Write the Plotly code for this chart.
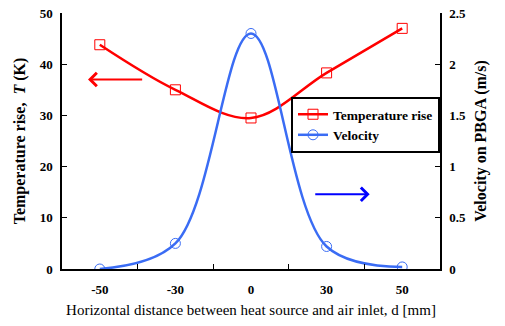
import plotly.graph_objects as go

categories = ["-50", "-30", "0", "30", "50"]
temperature_rise = [43.8, 35.0, 29.5, 38.3, 47.0]
velocity = [0.0, 0.25, 2.30, 0.22, 0.02]

xpos = list(range(len(categories)))
FONT = "Liberation Serif"

fig = go.Figure()
fig.add_trace(go.Scatter(
    x=xpos, y=temperature_rise, name="<b>Temperature rise</b>",
    mode="lines+markers", line=dict(color="#ff0000", width=2.5, shape="spline", smoothing=1),
    marker=dict(symbol="square-open", size=10, color="#ff0000", line=dict(width=1)),
))
fig.add_trace(go.Scatter(
    x=xpos, y=velocity, name="<b>Velocity</b>", yaxis="y2",
    mode="lines+markers", line=dict(color="#3a6cf4", width=2.5, shape="spline", smoothing=1),
    marker=dict(symbol="circle-open", size=10, color="#3a6cf4", line=dict(width=1)),
))

fig.add_annotation(x=-0.156, y=37.0, ax=0.58, ay=37.0, xref="x", yref="y", axref="x", ayref="y",
                   text="", showarrow=True, arrowhead=4, arrowsize=1.3, arrowwidth=2, arrowcolor="#ff0000")
fig.add_annotation(x=3.57, y=14.6, ax=2.83, ay=14.6, xref="x", yref="y", axref="x", ayref="y",
                   text="", showarrow=True, arrowhead=4, arrowsize=1.3, arrowwidth=2, arrowcolor="#0000ff")

fig.update_layout(
    width=505, height=326,
    margin=dict(l=62, r=65, t=13, b=57),
    paper_bgcolor="white", plot_bgcolor="white",
    font=dict(family=FONT, size=13, color="black"),
    showlegend=True,
    legend=dict(x=1.0, y=0.672, xanchor="right", yanchor="top",
                bordercolor="black", borderwidth=2, bgcolor="white",
                font=dict(family=FONT, size=13.5, color="black"),
                itemwidth=30, tracegroupgap=4),
    xaxis=dict(
        range=[-0.5, 4.5], tickmode="array", tickvals=xpos, automargin=False,
        ticktext=["<b>%s</b>" % c for c in categories], ticks="",
        showline=True, linecolor="black", linewidth=1.5, mirror=False,
        showgrid=False, zeroline=False, ticklabelstandoff=8,
        minor=dict(tickmode="array", tickvals=[0.5, 1.5, 2.5, 3.5], ticks="inside", ticklen=5, tickcolor="black"),
        title=dict(text="Horizontal distance between heat source and air inlet, d [mm]",
                   font=dict(family=FONT, size=15), standoff=8),
        tickfont=dict(family=FONT, size=13),
    ),
    yaxis=dict(
        range=[0, 50], ticks="inside", ticklen=5, tickcolor="black", automargin=False,
        tickvals=[0, 10, 20, 30, 40, 50],
        ticktext=["<b>%d</b>" % v for v in [0, 10, 20, 30, 40, 50]],
        showline=True, linecolor="black", linewidth=1.5, showgrid=False, zeroline=False,
        ticklabelstandoff=5,
        title=dict(text="<b>Temperature rise,  <i>T</i> (K)</b>", font=dict(family=FONT, size=16), standoff=10),
        tickfont=dict(family=FONT, size=13),
    ),
    yaxis2=dict(
        range=[0, 2.5], overlaying="y", side="right", automargin=False,
        tickvals=[0, 0.5, 1, 1.5, 2, 2.5],
        ticktext=["<b>%s</b>" % s for s in ["0", "0.5", "1", "1.5", "2", "2.5"]],
        ticks="inside", ticklen=5, tickcolor="black",
        showline=True, linecolor="black", linewidth=1.5, showgrid=False, zeroline=False,
        ticklabelstandoff=5,
        title=dict(text="<b>Velocity on PBGA (m/s)</b>", font=dict(family=FONT, size=16), standoff=10),
        tickfont=dict(family=FONT, size=13),
    ),
)

fig.write_html("out.html")
